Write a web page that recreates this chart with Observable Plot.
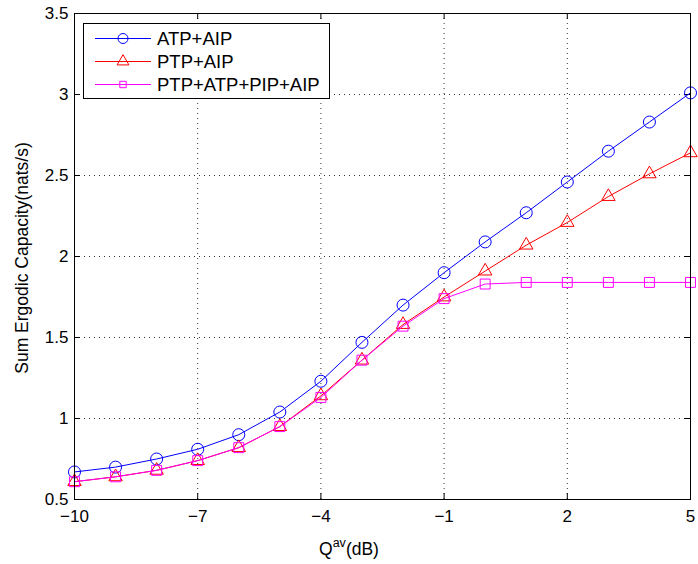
<!DOCTYPE html>
<html>
<head>
<meta charset="utf-8">
<script src="https://cdn.jsdelivr.net/npm/d3@7"></script>
<script src="https://cdn.jsdelivr.net/npm/@observablehq/plot@0.6"></script>
<style>
  body { margin: 0; background: #fff; }
  #wrap { position: relative; width: 698px; height: 564px; font-family: "Liberation Sans", Arial, sans-serif; }
</style>
</head>
<body>
<div id="wrap"></div>
<script>
const qdb = [-10, -9, -8, -7, -6, -5, -4, -3, -2, -1, 0, 1, 2, 3, 4, 5];
const atpAip = [0.67, 0.70, 0.75, 0.81, 0.90, 1.04, 1.23, 1.47, 1.70, 1.90, 2.09, 2.27, 2.46, 2.65, 2.83, 3.01];
const ptpAip = [0.61, 0.64, 0.68, 0.74, 0.82, 0.95, 1.14, 1.36, 1.58, 1.75, 1.91, 2.07, 2.21, 2.37, 2.51, 2.64];
const allAip = [0.61, 0.64, 0.68, 0.74, 0.82, 0.95, 1.13, 1.36, 1.57, 1.74, 1.83, 1.84, 1.84, 1.84, 1.84, 1.84];
const seriesNames = ["ATP+AIP", "PTP+AIP", "PTP+ATP+PIP+AIP"];
const seriesColors = ["#0000ff", "#ff0000", "#ff00ff"];
const seriesSymbols = ["circle", "triangle", "square"];
const seriesR = [6, 5, 5.6];
const xTicks = [-10, -7, -4, -1, 2, 5];
const yTicks = [0.5, 1, 1.5, 2, 2.5, 3, 3.5];

const seriesValues = [atpAip, ptpAip, allAip];
const fmtX = d => d < 0 ? "\u2212" + Math.abs(d) : String(d);
const xDom = [-10, 5], yDom = [0.5, 3.5];
const tickLenY = 6 / 162, tickLenX = 6 / 41;

const marks = [
  Plot.ruleX(xTicks, {stroke: "#333", strokeDasharray: "1,4", strokeWidth: 1}),
  Plot.ruleY(yTicks, {stroke: "#333", strokeDasharray: "1,4", strokeWidth: 1}),
  Plot.ruleX(xTicks, {y1: yDom[0], y2: yDom[0] + tickLenY, stroke: "#000"}),
  Plot.ruleX(xTicks, {y1: yDom[1], y2: yDom[1] - tickLenY, stroke: "#000"}),
  Plot.ruleY(yTicks, {x1: xDom[0], x2: xDom[0] + tickLenX, stroke: "#000"}),
  Plot.ruleY(yTicks, {x1: xDom[1], x2: xDom[1] - tickLenX, stroke: "#000"})
];
seriesValues.forEach((vals, i) => {
  const data = qdb.map((x, j) => ({x, y: vals[j]}));
  marks.push(Plot.line(data, {x: "x", y: "y", stroke: seriesColors[i], strokeWidth: 1}));
  marks.push(Plot.dot(data, {x: "x", y: "y", stroke: seriesColors[i], fill: "none", symbol: seriesSymbols[i], r: seriesR[i], strokeWidth: 1}));
});
marks.push(Plot.frame({stroke: "#000", strokeWidth: 1}));
marks.push(Plot.axisX(xTicks, {tickSize: 0, tickPadding: 10, tickFormat: fmtX, fontSize: 17, label: null}));
marks.push(Plot.axisY(yTicks, {tickSize: 0, tickPadding: 6, tickFormat: d => String(d), fontSize: 17, label: null}));

const chart = Plot.plot({
  width: 698, height: 564,
  marginLeft: 74, marginRight: 8, marginTop: 13, marginBottom: 65,
  style: {fontFamily: '"Liberation Sans", Arial, sans-serif', color: "#000", background: "#fff"},
  x: {domain: xDom},
  y: {domain: yDom},
  marks
});
document.getElementById("wrap").appendChild(chart);

const svg = d3.select(chart);
const xl = svg.append("text").attr("x", 349).attr("y", 555).attr("text-anchor", "middle")
  .attr("font-size", 17.5).attr("fill", "#000");
xl.append("tspan").text("Q");
xl.append("tspan").attr("dy", -8).attr("font-size", 12.5).text("av");
xl.append("tspan").attr("dy", 8).text("(dB)");
svg.append("text").attr("transform", "translate(28,258) rotate(-90)").attr("text-anchor", "middle")
  .attr("font-size", 17.5).attr("fill", "#000").text("Sum Ergodic Capacity(nats/s)");

const lg = svg.append("g");
lg.append("rect").attr("x", 83.5).attr("y", 23.5).attr("width", 246).attr("height", 75)
  .attr("fill", "#fff").attr("stroke", "#000");
seriesNames.forEach((name, i) => {
  const cy = 38.5 + i * 23;
  lg.append("line").attr("x1", 95).attr("x2", 151).attr("y1", cy).attr("y2", cy).attr("stroke", seriesColors[i]);
  const sym = {circle: d3.symbolCircle, triangle: d3.symbolTriangle, square: d3.symbolSquare}[seriesSymbols[i]];
  const rr = i === 0 ? 5 : i === 1 ? 4.4 : 3.6;
  lg.append("path").attr("transform", `translate(123,${cy})`)
    .attr("d", d3.symbol(sym, Math.PI * rr * rr)()).attr("fill", "none").attr("stroke", seriesColors[i]);
  lg.append("text").attr("x", 157).attr("y", cy).attr("dy", "0.36em").attr("text-anchor", "start")
    .attr("font-size", 18.5).attr("fill", "#000").text(name);
});
</script>
</body>
</html>
